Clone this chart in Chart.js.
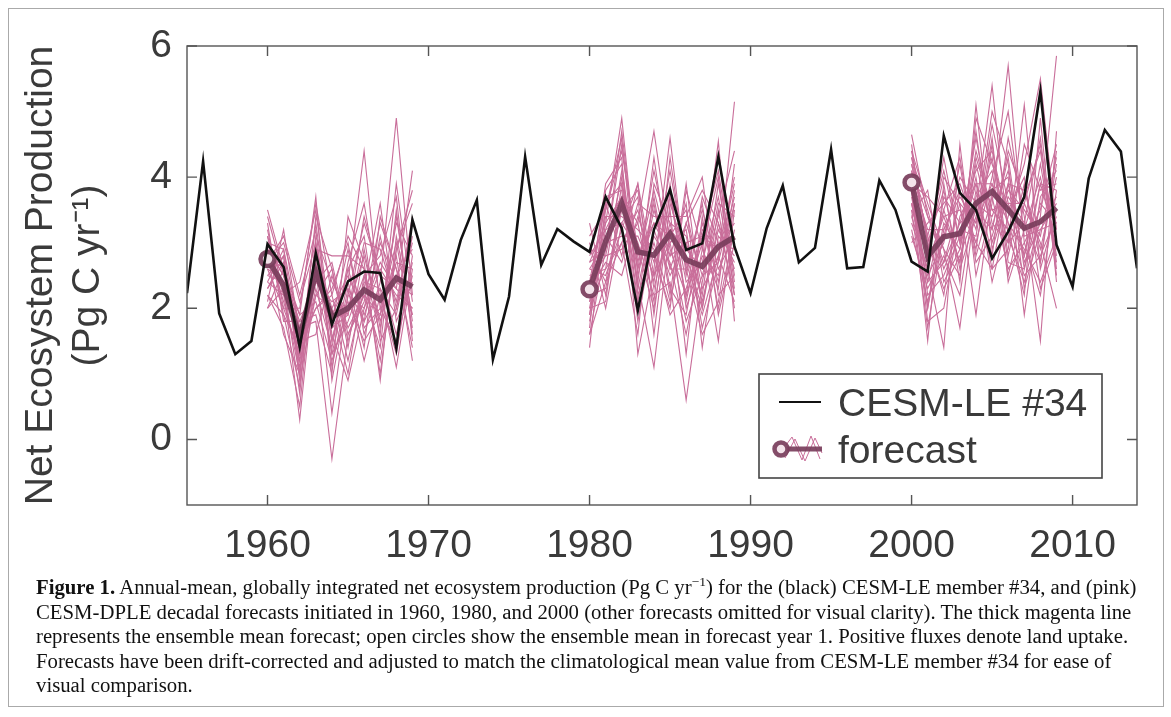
<!DOCTYPE html>
<html>
<head>
<meta charset="utf-8">
<script src="https://cdn.jsdelivr.net/npm/chart.js@4.4.1/dist/chart.umd.min.js"></script>
<style>
  html, body { margin: 0; padding: 0; background: #fff; }
  #page { position: relative; width: 1171px; height: 717px; overflow: hidden; }
  #frame { position: absolute; left: 8px; top: 8px; width: 1154px; height: 697px; border: 1px solid #aaa; }
  #wrap { position: absolute; left: 0; top: 0; width: 1171px; height: 575px; }
  #caption { position: absolute; left: 36px; top: 575px; font-family: "Liberation Serif", serif;
             font-size: 20px; line-height: 24.6px; color: #111; white-space: nowrap; transform-origin: 0 0; }
  #caption sup { font-size: 13px; line-height: 0; }
</style>
</head>
<body>
<div id="page">
  <div id="frame"></div>
  <div id="wrap"><canvas id="nepChart"></canvas></div>
  <div id="caption">
    <div id="capLine1"><b>Figure 1.</b> Annual-mean, globally integrated net ecosystem production (Pg C yr<sup>−1</sup>) for the (black) CESM-LE member #34, and (pink)</div>
    <div>CESM-DPLE decadal forecasts initiated in 1960, 1980, and 2000 (other forecasts omitted for visual clarity). The thick magenta line</div>
    <div>represents the ensemble mean forecast; open circles show the ensemble mean in forecast year 1. Positive fluxes denote land uptake.</div>
    <div>Forecasts have been drift-corrected and adjusted to match the climatological mean value from CESM-LE member #34 for ease of</div>
    <div>visual comparison.</div>
  </div>
</div>
<script>
// --- data ---
const leYears = [];
for (let y = 1955; y <= 2014; y++) leYears.push(y);
const leValues = [
  2.23, 4.24, 1.92, 1.30, 1.50, 2.98, 2.63, 1.41, 2.84, 1.75,
  2.41, 2.56, 2.54, 1.39, 3.35, 2.52, 2.13, 3.04, 3.65, 1.22,
  2.18, 4.31, 2.66, 3.21, 3.02, 2.86, 3.70, 3.22, 1.97, 3.20,
  3.81, 2.89, 2.99, 4.31, 2.94, 2.23, 3.22, 3.87, 2.70, 2.92,
  4.42, 2.61, 2.63, 3.95, 3.50, 2.71, 2.56, 4.63, 3.76, 3.50,
  2.76, 3.17, 3.70, 5.31, 2.97, 2.33, 3.98, 4.72, 4.39, 2.61
];

const forecastStarts = [1960, 1980, 2000];

const mean1960 = [2.75, 2.35, 1.55, 2.55, 1.87, 2.00, 2.28, 2.13, 2.46, 2.33];
const mean1980 = [2.29, 3.02, 3.60, 2.86, 2.81, 3.14, 2.74, 2.64, 2.94, 3.09];
const mean2000 = [3.92, 2.79, 3.09, 3.14, 3.60, 3.78, 3.50, 3.22, 3.32, 3.53];

const members1960 = [
  [2.9, 2.1, 1.2, 3.3, 1.5, 2.6, 1.8, 3.1, 2.0, 3.0],
  [2.5, 2.8, 0.9, 2.2, 2.6, 1.4, 2.9, 1.7, 3.4, 1.8],
  [3.4, 2.5, 1.9, 3.7, 0.9, 2.2, 3.3, 2.5, 1.6, 2.7],
  [2.2, 1.9, 1.4, 2.0, 2.3, 3.0, 1.6, 2.4, 4.9, 2.2],
  [2.7, 3.0, 2.1, 3.0, 1.3, 1.8, 2.5, 1.2, 2.9, 3.6],
  [3.1, 2.3, 0.3, 2.7, 1.9, 2.4, 4.4, 2.0, 1.5, 2.5],
  [2.0, 2.6, 1.7, 1.8, -0.3, 1.6, 2.1, 3.3, 2.6, 1.4],
  [2.8, 1.6, 1.0, 2.9, 2.8, 2.8, 2.6, 1.6, 3.9, 2.1],
  [3.0, 2.2, 2.4, 3.5, 1.6, 0.9, 2.0, 2.7, 2.3, 4.1],
  [2.4, 2.9, 1.3, 2.4, 2.1, 2.3, 1.2, 2.2, 1.3, 2.8],
  [3.3, 1.8, 1.8, 1.9, 1.0, 3.4, 2.7, 0.9, 3.1, 1.9],
  [2.6, 2.4, 0.7, 3.1, 2.4, 1.9, 3.0, 2.9, 2.1, 3.3],
  [2.1, 3.2, 1.6, 2.6, 1.7, 2.1, 1.5, 1.9, 2.8, 1.2],
  [3.2, 2.0, 2.0, 3.6, 2.2, 1.2, 2.3, 3.6, 1.8, 2.4],
  [2.3, 2.7, 1.1, 2.3, 1.4, 2.7, 3.6, 2.1, 2.5, 2.9],
  [2.9, 2.5, 1.5, 1.6, 2.5, 1.7, 2.2, 1.4, 3.5, 1.6],
  [2.6, 2.0, 1.3, 2.8, 2.0, 2.5, 1.9, 2.6, 2.2, 2.0],
  [2.8, 2.6, 1.9, 2.1, 1.2, 2.0, 2.8, 1.8, 2.7, 2.6],
  [2.4, 2.2, 1.0, 3.4, 2.6, 1.5, 2.4, 2.3, 1.9, 3.1],
  [3.0, 2.9, 1.7, 2.5, 1.8, 2.9, 1.7, 2.0, 3.0, 1.7],
  [2.5, 2.4, 1.4, 2.6, 0.4, 2.2, 2.0, 3.0, 2.4, 2.2],
  [2.2, 1.7, 0.5, 2.9, 1.5, 2.6, 3.1, 1.5, 2.0, 3.4],
  [3.5, 2.6, 1.2, 2.2, 2.0, 1.0, 2.5, 2.8, 3.7, 1.5],
  [2.7, 3.1, 2.2, 3.2, 1.1, 2.3, 1.8, 2.3, 1.1, 2.6],
  [2.0, 2.3, 1.5, 2.0, 2.2, 3.1, 2.6, 1.0, 2.9, 3.8],
  [3.1, 1.9, 0.8, 3.0, 1.7, 1.9, 3.4, 2.5, 2.3, 2.0],
  [2.9, 2.5, 1.8, 2.4, 2.7, 1.6, 2.2, 1.9, 3.3, 2.8],
  [2.3, 2.8, 1.0, 2.7, 1.3, 2.4, 1.4, 3.4, 2.6, 1.9]
];
const members1980 = [
  [2.0, 3.3, 4.9, 2.5, 3.6, 2.2, 3.9, 2.0, 3.3, 2.6],
  [2.6, 2.5, 3.2, 3.9, 1.9, 3.8, 2.1, 3.3, 2.4, 3.8],
  [1.4, 3.6, 3.9, 2.0, 3.1, 2.7, 1.6, 2.9, 4.0, 2.2],
  [2.9, 2.8, 2.9, 3.3, 4.7, 3.0, 3.2, 1.7, 2.7, 5.15],
  [2.2, 3.9, 4.3, 1.3, 2.6, 4.6, 2.5, 3.6, 1.9, 3.0],
  [3.3, 2.2, 3.6, 3.0, 2.2, 2.4, 0.6, 2.4, 3.6, 3.4],
  [1.8, 3.1, 2.7, 3.6, 3.4, 3.4, 3.4, 4.0, 2.2, 2.5],
  [2.5, 2.6, 4.1, 2.4, 1.1, 3.2, 2.9, 2.6, 4.55, 1.8],
  [2.1, 3.4, 3.4, 3.2, 2.9, 1.9, 2.3, 3.1, 2.9, 4.0],
  [2.7, 2.9, 4.5, 2.7, 3.8, 2.8, 3.6, 1.4, 3.1, 2.8],
  [1.6, 2.4, 3.0, 3.5, 2.4, 3.9, 2.0, 2.8, 2.5, 3.6],
  [2.4, 3.7, 3.8, 1.8, 3.2, 2.5, 3.0, 2.2, 3.9, 2.4],
  [3.0, 2.0, 3.3, 2.9, 2.0, 3.5, 1.3, 3.4, 2.0, 3.2],
  [1.9, 3.5, 4.6, 2.2, 3.0, 2.1, 3.3, 2.5, 3.4, 4.4],
  [2.3, 2.7, 2.5, 3.4, 2.7, 4.1, 2.7, 1.9, 2.8, 2.1],
  [2.8, 3.2, 3.7, 2.6, 4.1, 2.9, 2.2, 3.0, 1.5, 3.5],
  [2.2, 2.3, 3.5, 3.8, 2.3, 3.3, 3.1, 2.1, 3.2, 2.7],
  [1.7, 3.8, 4.2, 2.3, 3.5, 2.6, 2.6, 3.5, 2.6, 3.1],
  [2.6, 3.0, 3.1, 3.1, 2.5, 3.7, 2.4, 2.7, 3.7, 2.3],
  [2.0, 2.1, 3.9, 2.8, 3.3, 3.1, 3.5, 2.3, 2.8, 3.9],
  [2.4, 2.8, 4.0, 2.1, 3.7, 2.3, 1.9, 3.2, 2.9, 3.3],
  [1.9, 3.2, 3.3, 3.7, 1.6, 3.6, 2.8, 2.0, 3.5, 2.0],
  [3.1, 3.5, 4.4, 2.9, 2.8, 2.0, 3.8, 2.9, 2.3, 4.2],
  [2.1, 2.6, 3.0, 1.6, 3.9, 3.3, 2.2, 3.7, 3.0, 2.9],
  [2.7, 3.3, 3.7, 3.3, 2.1, 4.3, 2.6, 1.6, 2.1, 3.6],
  [1.6, 2.9, 4.7, 2.6, 3.3, 2.8, 3.0, 3.1, 4.1, 2.5],
  [2.3, 3.6, 2.8, 3.9, 2.5, 3.0, 1.8, 2.5, 2.7, 3.7],
  [2.9, 2.4, 3.6, 2.4, 4.3, 2.6, 3.3, 3.8, 3.3, 2.2]
];
const members2000 = [
  [3.6, 2.4, 3.5, 2.7, 4.2, 3.2, 4.3, 2.6, 3.9, 3.0],
  [4.2, 3.1, 2.2, 3.8, 2.9, 4.5, 2.8, 3.9, 2.7, 4.4],
  [3.8, 1.5, 3.9, 2.4, 5.1, 2.9, 3.7, 3.3, 4.6, 2.6],
  [4.65, 3.4, 2.7, 3.3, 3.5, 5.4, 3.1, 2.4, 3.4, 5.85],
  [3.3, 2.6, 1.4, 4.5, 2.5, 3.6, 5.7, 3.0, 2.2, 3.8],
  [4.0, 2.0, 3.3, 2.9, 4.0, 2.4, 3.4, 4.2, 5.5, 3.2],
  [4.4, 3.6, 2.9, 1.7, 3.7, 4.1, 2.5, 3.6, 3.0, 2.0],
  [3.5, 2.9, 4.0, 3.6, 1.9, 3.8, 4.0, 1.9, 3.7, 4.1],
  [4.1, 2.2, 2.5, 3.1, 4.6, 3.3, 3.0, 5.1, 2.6, 3.5],
  [3.0, 3.3, 3.6, 3.9, 3.2, 4.8, 3.6, 2.8, 4.2, 2.8],
  [3.9, 1.8, 2.0, 3.4, 3.9, 2.8, 4.6, 3.4, 1.5, 4.7],
  [4.3, 3.0, 3.8, 2.6, 3.4, 4.3, 2.7, 2.6, 3.6, 3.3],
  [3.7, 2.5, 3.0, 4.2, 2.7, 3.1, 3.9, 3.8, 2.9, 4.0],
  [3.4, 3.8, 2.4, 2.9, 4.4, 3.5, 3.2, 2.2, 4.9, 2.4],
  [4.5, 2.7, 3.4, 3.5, 3.0, 4.0, 5.0, 3.1, 3.2, 3.6],
  [3.1, 2.3, 2.8, 2.2, 3.8, 2.6, 2.9, 4.5, 3.8, 3.9],
  [4.0, 3.2, 3.2, 3.7, 3.3, 3.9, 3.3, 2.9, 2.4, 3.1],
  [3.6, 2.8, 4.3, 3.0, 4.7, 3.0, 3.8, 3.5, 3.1, 4.3],
  [4.3, 3.5, 2.6, 3.2, 3.1, 4.6, 2.4, 3.2, 4.0, 2.9],
  [3.2, 2.1, 3.1, 4.0, 3.6, 3.4, 4.1, 2.7, 3.3, 3.7],
  [3.8, 2.0, 3.7, 3.3, 4.1, 4.4, 3.3, 2.5, 2.8, 3.4],
  [4.4, 3.0, 2.3, 2.8, 3.5, 3.2, 4.4, 3.7, 4.4, 2.7],
  [3.4, 2.6, 3.5, 4.3, 2.8, 3.7, 2.6, 3.0, 3.5, 4.5],
  [4.1, 3.4, 2.9, 2.5, 4.9, 4.2, 3.5, 4.0, 2.3, 3.0],
  [3.5, 1.7, 3.2, 3.8, 3.0, 2.6, 3.9, 2.8, 3.9, 3.8],
  [4.2, 3.1, 4.1, 3.0, 3.9, 3.9, 3.0, 3.3, 2.7, 4.2],
  [3.6, 2.4, 2.7, 3.6, 3.3, 5.0, 4.2, 2.3, 3.2, 3.3],
  [3.9, 3.7, 3.4, 2.7, 4.3, 3.5, 3.6, 3.6, 4.5, 2.5]
];

const xTickValues = [1960, 1970, 1980, 1990, 2000, 2010];
const yTickValues = [0, 2, 4, 6];

// --- styling ---
const INK = '#3a3a3a';
const BLACK = '#111111';
const PINK = '#c96e9a';
const MAGENTA = 'rgba(122, 62, 92, 0.92)';
const SANS = '"Liberation Sans", Arial, sans-serif';

function toPoints(start, values) {
  return values.map((v, i) => ({ x: start + i, y: v }));
}

const datasets = [];
datasets.push({
  label: 'CESM-LE #34',
  data: leYears.map((yr, i) => ({ x: yr, y: leValues[i] })),
  borderColor: BLACK, borderWidth: 2.6, pointRadius: 0, order: 0
});
const means = [mean1960, mean1980, mean2000];
const members = [members1960, members1980, members2000];
forecastStarts.forEach((start, k) => {
  datasets.push({
    label: 'forecast mean ' + start,
    data: toPoints(start, means[k]),
    borderColor: MAGENTA, borderWidth: 5.5,
    pointRadius: means[k].map((v, i) => i === 0 ? 7 : 0),
    pointBorderWidth: 4.5, pointBorderColor: MAGENTA, pointBackgroundColor: '#f3e3ea',
    order: 1
  });
  members[k].forEach((m, j) => {
    datasets.push({
      label: 'member ' + start + '-' + (j + 1),
      data: toPoints(start, m),
      borderColor: PINK, borderWidth: 1.1, pointRadius: 0, order: 2
    });
  });
});

// box with inward ticks on all four sides
const boxPlugin = {
  id: 'boxTicks',
  afterDatasetsDraw(chart) {
    const { ctx, chartArea: a, scales } = chart;
    ctx.save();
    ctx.strokeStyle = '#555';
    ctx.lineWidth = 1.4;
    ctx.strokeRect(a.left, a.top, a.right - a.left, a.bottom - a.top);
    const len = 10;
    ctx.beginPath();
    xTickValues.forEach(v => {
      const px = scales.x.getPixelForValue(v);
      ctx.moveTo(px, a.bottom); ctx.lineTo(px, a.bottom - len);
      ctx.moveTo(px, a.top); ctx.lineTo(px, a.top + len);
    });
    yTickValues.forEach(v => {
      const py = scales.y.getPixelForValue(v);
      ctx.moveTo(a.left, py); ctx.lineTo(a.left + len, py);
      ctx.moveTo(a.right, py); ctx.lineTo(a.right - len, py);
    });
    ctx.stroke();
    ctx.restore();
  }
};

// legend drawn inside the plot, lower right
const legendPlugin = {
  id: 'insideLegend',
  afterDraw(chart) {
    const { ctx, chartArea: a } = chart;
    const bx = a.right - 378, by = a.bottom - 131, bw = 343, bh = 104;
    ctx.save();
    ctx.fillStyle = '#fff';
    ctx.fillRect(bx, by, bw, bh);
    ctx.strokeStyle = '#444';
    ctx.lineWidth = 1.6;
    ctx.strokeRect(bx, by, bw, bh);

    // black line entry
    const y1 = by + 28, y2 = by + 75;
    ctx.strokeStyle = BLACK; ctx.lineWidth = 2;
    ctx.beginPath(); ctx.moveTo(bx + 20, y1); ctx.lineTo(bx + 62, y1); ctx.stroke();

    // forecast entry: thin zigzag, thick mean, open circle
    ctx.strokeStyle = PINK; ctx.lineWidth = 1;
    ctx.beginPath();
    ctx.moveTo(bx + 24, y2); ctx.lineTo(bx + 33, y2 - 12); ctx.lineTo(bx + 43, y2 + 11);
    ctx.lineTo(bx + 52, y2 - 13); ctx.lineTo(bx + 61, y2 + 10);
    ctx.moveTo(bx + 26, y2 + 9); ctx.lineTo(bx + 36, y2 - 10); ctx.lineTo(bx + 46, y2 + 12);
    ctx.lineTo(bx + 56, y2 - 11); ctx.lineTo(bx + 63, y2 + 4);
    ctx.stroke();
    ctx.strokeStyle = MAGENTA; ctx.lineWidth = 5;
    ctx.beginPath(); ctx.moveTo(bx + 24, y2); ctx.lineTo(bx + 63, y2); ctx.stroke();
    ctx.lineWidth = 4.5; ctx.fillStyle = '#f3e3ea';
    ctx.beginPath(); ctx.arc(bx + 22, y2, 6.5, 0, Math.PI * 2); ctx.fill(); ctx.stroke();

    ctx.fillStyle = INK;
    ctx.font = '39px ' + SANS;
    ctx.textBaseline = 'middle';
    ctx.fillText('CESM-LE #34', bx + 79, y1 + 3);
    ctx.fillText('forecast', bx + 79, y2 + 3);
    ctx.restore();
  }
};

new Chart(document.getElementById('nepChart').getContext('2d'), {
  type: 'line',
  data: { datasets: datasets },
  options: {
    responsive: true,
    maintainAspectRatio: false,
    animation: false,
    events: [],
    layout: { padding: { top: 46, right: 34, bottom: 0, left: 0 } },
    plugins: { legend: { display: false }, tooltip: { enabled: false } },
    scales: {
      x: {
        type: 'linear', min: 1955, max: 2014,
        afterBuildTicks: s => { s.ticks = xTickValues.map(v => ({ value: v })); },
        afterFit: s => { s.height = 70; },
        grid: { display: false, drawTicks: false },
        border: { display: false },
        ticks: { color: INK, font: { family: SANS, size: 39 }, padding: 18, maxRotation: 0,
                 callback: v => String(v) }
      },
      y: {
        type: 'linear', min: -1, max: 6,
        afterBuildTicks: s => { s.ticks = yTickValues.map(v => ({ value: v })); },
        afterFit: s => { s.width = 187; },
        grid: { display: false, drawTicks: false },
        border: { display: false },
        ticks: { color: INK, font: { family: SANS, size: 39 }, padding: 15 },
        title: {
          display: true,
          text: ['Net Ecosystem Production', '(Pg C yr\u207B\u00B9)'],
          color: INK,
          font: { family: SANS, size: 39, lineHeight: 1.2 },
          padding: { top: 18, bottom: 0 }
        }
      }
    }
  },
  plugins: [boxPlugin, legendPlugin]
});

// squeeze the caption to the width of the printed lines
const cap = document.getElementById('caption');
const natural = document.getElementById('capLine1').scrollWidth;
cap.style.transform = 'scaleX(' + (1100 / natural) + ')';
</script>
</body>
</html>
